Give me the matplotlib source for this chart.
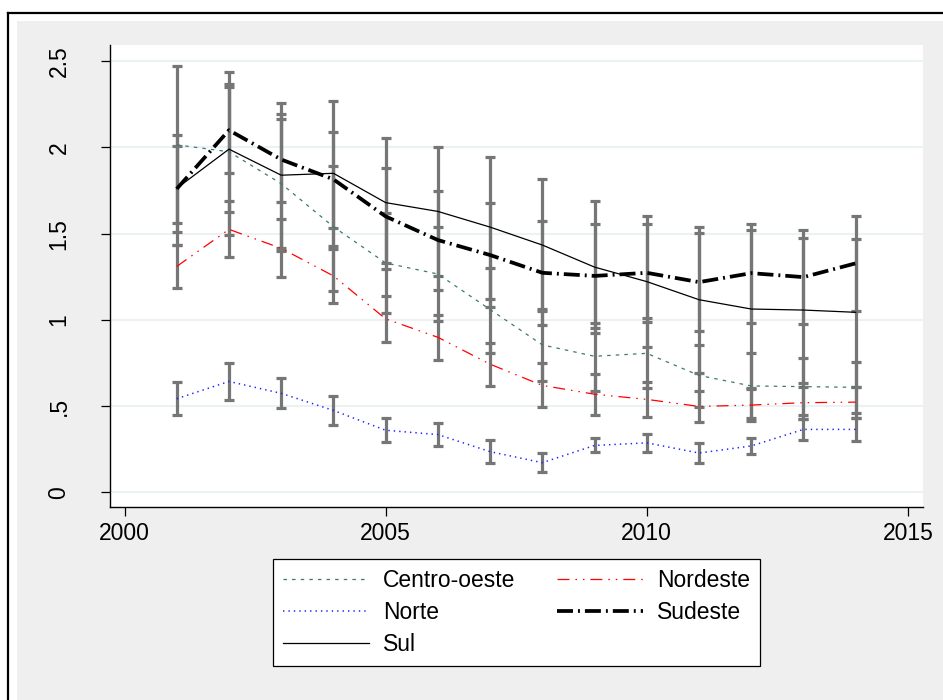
import matplotlib
matplotlib.use("Agg")
import matplotlib.pyplot as plt
from matplotlib.patches import Rectangle
from matplotlib.lines import Line2D

years = [2001, 2002, 2003, 2004, 2005, 2006, 2007, 2008, 2009, 2010, 2011, 2012, 2013, 2014]

# Centro-oeste
co_mean = [2.015, 1.975, 1.79, 1.54, 1.33, 1.266, 1.06, 0.855, 0.789, 0.806, 0.678, 0.617, 0.613, 0.609]
co_lo = [1.562, 1.492, 1.401, 1.166, 1.038, 0.995, 0.806, 0.644, 0.589, 0.603, 0.497, 0.431, 0.450, 0.462]
co_hi = [2.475, 2.436, 2.163, 1.893, 1.622, 1.537, 1.299, 1.061, 0.984, 1.009, 0.856, 0.806, 0.777, 0.758]

# Nordeste
ne_mean = [1.31, 1.525, 1.415, 1.255, 1.006, 0.899, 0.743, 0.62, 0.569, 0.539, 0.498, 0.506, 0.52, 0.523]
ne_lo = [1.187, 1.365, 1.249, 1.100, 0.872, 0.767, 0.618, 0.493, 0.450, 0.439, 0.406, 0.415, 0.427, 0.431]
ne_hi = [1.434, 1.692, 1.585, 1.411, 1.140, 1.027, 0.866, 0.748, 0.686, 0.640, 0.589, 0.599, 0.611, 0.613]

# Norte
no_mean = [0.543, 0.643, 0.574, 0.475, 0.36, 0.335, 0.236, 0.172, 0.272, 0.287, 0.228, 0.269, 0.365, 0.365]
no_lo = [0.448, 0.535, 0.487, 0.389, 0.290, 0.270, 0.168, 0.118, 0.232, 0.236, 0.172, 0.220, 0.303, 0.298]
no_hi = [0.638, 0.752, 0.661, 0.560, 0.429, 0.400, 0.303, 0.226, 0.313, 0.338, 0.284, 0.317, 0.427, 0.431]

# Sudeste
se_mean = [1.76, 2.10, 1.93, 1.815, 1.60, 1.463, 1.376, 1.273, 1.255, 1.273, 1.219, 1.271, 1.248, 1.328]
se_lo = [1.434, 1.852, 1.684, 1.533, 1.328, 1.173, 1.073, 0.972, 0.953, 0.990, 0.934, 0.984, 0.976, 1.052]
se_hi = [2.071, 2.367, 2.193, 2.090, 1.879, 1.749, 1.680, 1.574, 1.556, 1.556, 1.504, 1.558, 1.521, 1.604]

# Sul
su_mean = [1.763, 1.99, 1.839, 1.85, 1.68, 1.629, 1.538, 1.434, 1.306, 1.222, 1.117, 1.063, 1.057, 1.044]
su_lo = [1.510, 1.624, 1.419, 1.429, 1.293, 1.255, 1.121, 1.052, 0.926, 0.841, 0.694, 0.605, 0.636, 0.613]
su_hi = [2.011, 2.349, 2.256, 2.270, 2.053, 2.001, 1.947, 1.817, 1.690, 1.605, 1.537, 1.521, 1.477, 1.469]

xticks = [2000, 2005, 2010, 2015]
yticks = [0, 0.5, 1, 1.5, 2, 2.5]
ytick_labels = ["0", ".5", "1", "1.5", "2", "2.5"]

plt.rcParams["font.family"] = ["Liberation Sans", "DejaVu Sans"]
plt.rcParams["lines.scale_dashes"] = False

W, H = 943, 700
fig = plt.figure(figsize=(W / 100, H / 100), dpi=100, facecolor="white")

# graph region: gray fill with black outer frame
fig.patches.append(Rectangle((17 / W, 0), 1, 1 - 21 / H, transform=fig.transFigure,
                             facecolor="#efefef", edgecolor="none", zorder=-5))
fig.add_artist(Line2D([8 / W, 8 / W], [0, 1 - 13 / H], transform=fig.transFigure,
                      color="black", lw=1.6, zorder=-4))
fig.add_artist(Line2D([8 / W, 1], [1 - 13 / H, 1 - 13 / H], transform=fig.transFigure,
                      color="black", lw=1.6, zorder=-4))

ax = fig.add_axes([110 / W, 1 - 507 / H, (923 - 110) / W, (507 - 45) / H])
ax.set_zorder(1)
ax.set_facecolor("white")
ax.set_xlim(1999.722, 2015.288)
ax.set_ylim(-0.085, 2.594)

for y in yticks:
    ax.axhline(y, color="#eaf2f3", lw=1.5, zorder=1)

# confidence intervals
for lo, hi in [(co_lo, co_hi), (ne_lo, ne_hi), (no_lo, no_hi), (se_lo, se_hi), (su_lo, su_hi)]:
    ax.vlines(years, lo, hi, color="#767676", lw=2.3, zorder=2)
    ax.plot(years, lo, ls="none", marker="_", ms=7.5, mew=2.3, color="#767676", zorder=2)
    ax.plot(years, hi, ls="none", marker="_", ms=7.5, mew=2.3, color="#767676", zorder=2)

l_co, = ax.plot(years, co_mean, color="#3a7a6f", lw=0.9, dashes=(2.5, 3.7), zorder=3)
l_ne, = ax.plot(years, ne_mean, color="#ff0000", lw=0.9, dashes=(8.6, 4.3, 1.1, 4.3, 1.1, 4.3), zorder=3)
l_no, = ax.plot(years, no_mean, color="#2020ff", lw=1.1, dashes=(1.0, 2.9), zorder=3)
l_se, = ax.plot(years, se_mean, color="black", lw=2.7, dashes=(11.5, 3.6, 1.4, 3.6), zorder=3)
l_su, = ax.plot(years, su_mean, color="black", lw=0.9, zorder=3)

for side in ["top", "right"]:
    ax.spines[side].set_visible(False)
for side in ["left", "bottom"]:
    ax.spines[side].set_linewidth(1.0)

ax.set_xticks(xticks)
ax.set_yticks(yticks)
ax.set_yticklabels(ytick_labels, rotation=90, va="center")
ax.tick_params(axis="both", length=6.5, width=0.9, labelsize=16.5)
ax.tick_params(axis="x", pad=4.5)
ax.tick_params(axis="y", pad=22)

# legend filled column by column: left column Centro-oeste / Norte / Sul
leg = fig.legend([l_co, l_no, l_su, l_ne, l_se],
                 ["Centro-oeste", "Norte", "Sul", "Nordeste", "Sudeste"],
                 ncol=2, loc="center", bbox_to_anchor=(516.5 / W, 1 - 612.5 / H),
                 fontsize=16.5, frameon=True, fancybox=False, edgecolor="black", framealpha=1,
                 handlelength=3.75, handletextpad=0.62, columnspacing=1.8,
                 labelspacing=0.4, borderpad=0.45, borderaxespad=0)
leg.get_frame().set_linewidth(0.9)

fig.savefig("out.png", dpi=100, facecolor="white")
